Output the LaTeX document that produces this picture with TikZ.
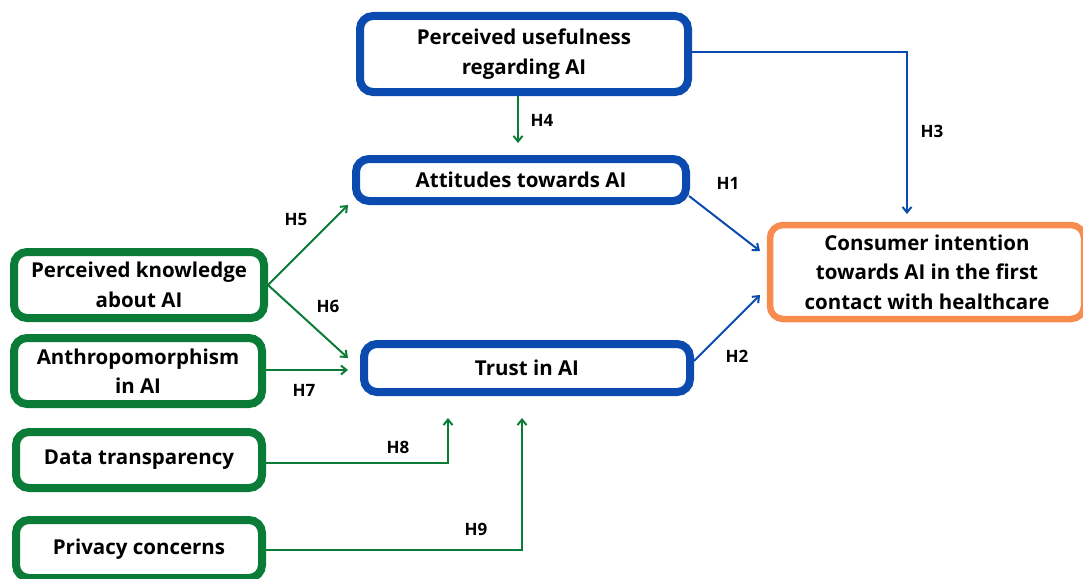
\documentclass[tikz,border=0pt]{standalone}
\usepackage{fontspec}
\setmainfont{Open Sans}
\usetikzlibrary{arrows.meta}
\definecolor{cblue}{HTML}{0B4AAE}
\definecolor{cgreen}{HTML}{0B7C37}
\definecolor{corange}{HTML}{F78C4E}
\tikzset{
  box/.style={draw, rounded corners=13pt, line width=8pt, fill=white, align=center, font=\bfseries\fontsize{20.5}{29.5}\selectfont, inner sep=0pt},
  bluebox/.style={box, draw=cblue},
  greenbox/.style={box, draw=cgreen},
  orangebox/.style={box, draw=corange, line width=6.5pt},
  conn/.style={line width=2pt, -{Straight Barb[length=5.5pt,width=9pt]}},
  bconn/.style={conn, draw=cblue},
  gconn/.style={conn, draw=cgreen},
  lab/.style={font=\bfseries\fontsize{17}{20}\selectfont, inner sep=0pt}
}
\begin{document}
\begin{tikzpicture}[x=1pt,y=-1pt]
\useasboundingbox (0,0) rectangle (1083,578);
% nodes
\node[bluebox, minimum width=328pt, minimum height=76pt] (pu) at (524,54) {Perceived usefulness\\regarding AI};
\node[bluebox, minimum width=330pt, minimum height=42pt] (att) at (521,180) {Attitudes towards AI};
\node[bluebox, minimum width=326pt, minimum height=48pt] (tr) at (527,368) {Trust in AI};
\node[orangebox, minimum width=314pt, minimum height=94pt] (ci) at (927,272) {Consumer intention\\towards AI in the first\\contact with healthcare};
\node[greenbox, minimum width=250pt, minimum height=66pt] (pk) at (139,285) {Perceived knowledge\\about AI};
\node[greenbox, minimum width=248pt, minimum height=66pt] (an) at (138,371) {Anthropomorphism\\in AI};
\node[greenbox, minimum width=246pt, minimum height=56pt] (dt) at (139,460) {Data transparency};
\node[greenbox, minimum width=246pt, minimum height=58pt] (pc) at (139,549) {Privacy concerns};
% free ends
\coordinate (h4e) at (518,143);
\coordinate (h3c) at (907,52);
\coordinate (h3e) at (907,214);
\coordinate (h1s) at (689,196);
\coordinate (h1e) at (760,251);
\coordinate (h2s) at (694,361);
\coordinate (h2e) at (760,295);
\coordinate (pks) at (268,285);
\coordinate (h5e) at (348,205);
\coordinate (h6e) at (348,358);
\coordinate (h7e) at (348,370);
\coordinate (h8c) at (448,463);
\coordinate (h8e) at (448,418);
\coordinate (h9c) at (522,550);
\coordinate (h9e) at (522,418);
% connectors
\draw[gconn] (pu.south -| h4e) -- (h4e);
\draw[bconn] (pu.east |- h3c) -- (h3c) -- (h3e);
\draw[bconn] (h1s) -- (h1e);
\draw[bconn] (h2s) -- (h2e);
\draw[gconn] (pks) -- (h5e);
\draw[gconn] (pks) -- (h6e);
\draw[gconn] (an.east |- h7e) -- (h7e);
\draw[gconn] (dt.east |- h8c) -- (h8c) -- (h8e);
\draw[gconn] (pc.east |- h9c) -- (h9c) -- (h9e);
% labels
\node[lab] (l4) at (542,120) {H4};
\node[lab] (l3) at (932,131) {H3};
\node[lab] (l1) at (728,183) {H1};
\node[lab] (l2) at (737,356) {H2};
\node[lab] (l5) at (296,220) {H5};
\node[lab] (l6) at (328,306) {H6};
\node[lab] (l7) at (304,390) {H7};
\node[lab] (l8) at (398,447) {H8};
\node[lab] (l9) at (476,529) {H9};
\end{tikzpicture}
\end{document}
